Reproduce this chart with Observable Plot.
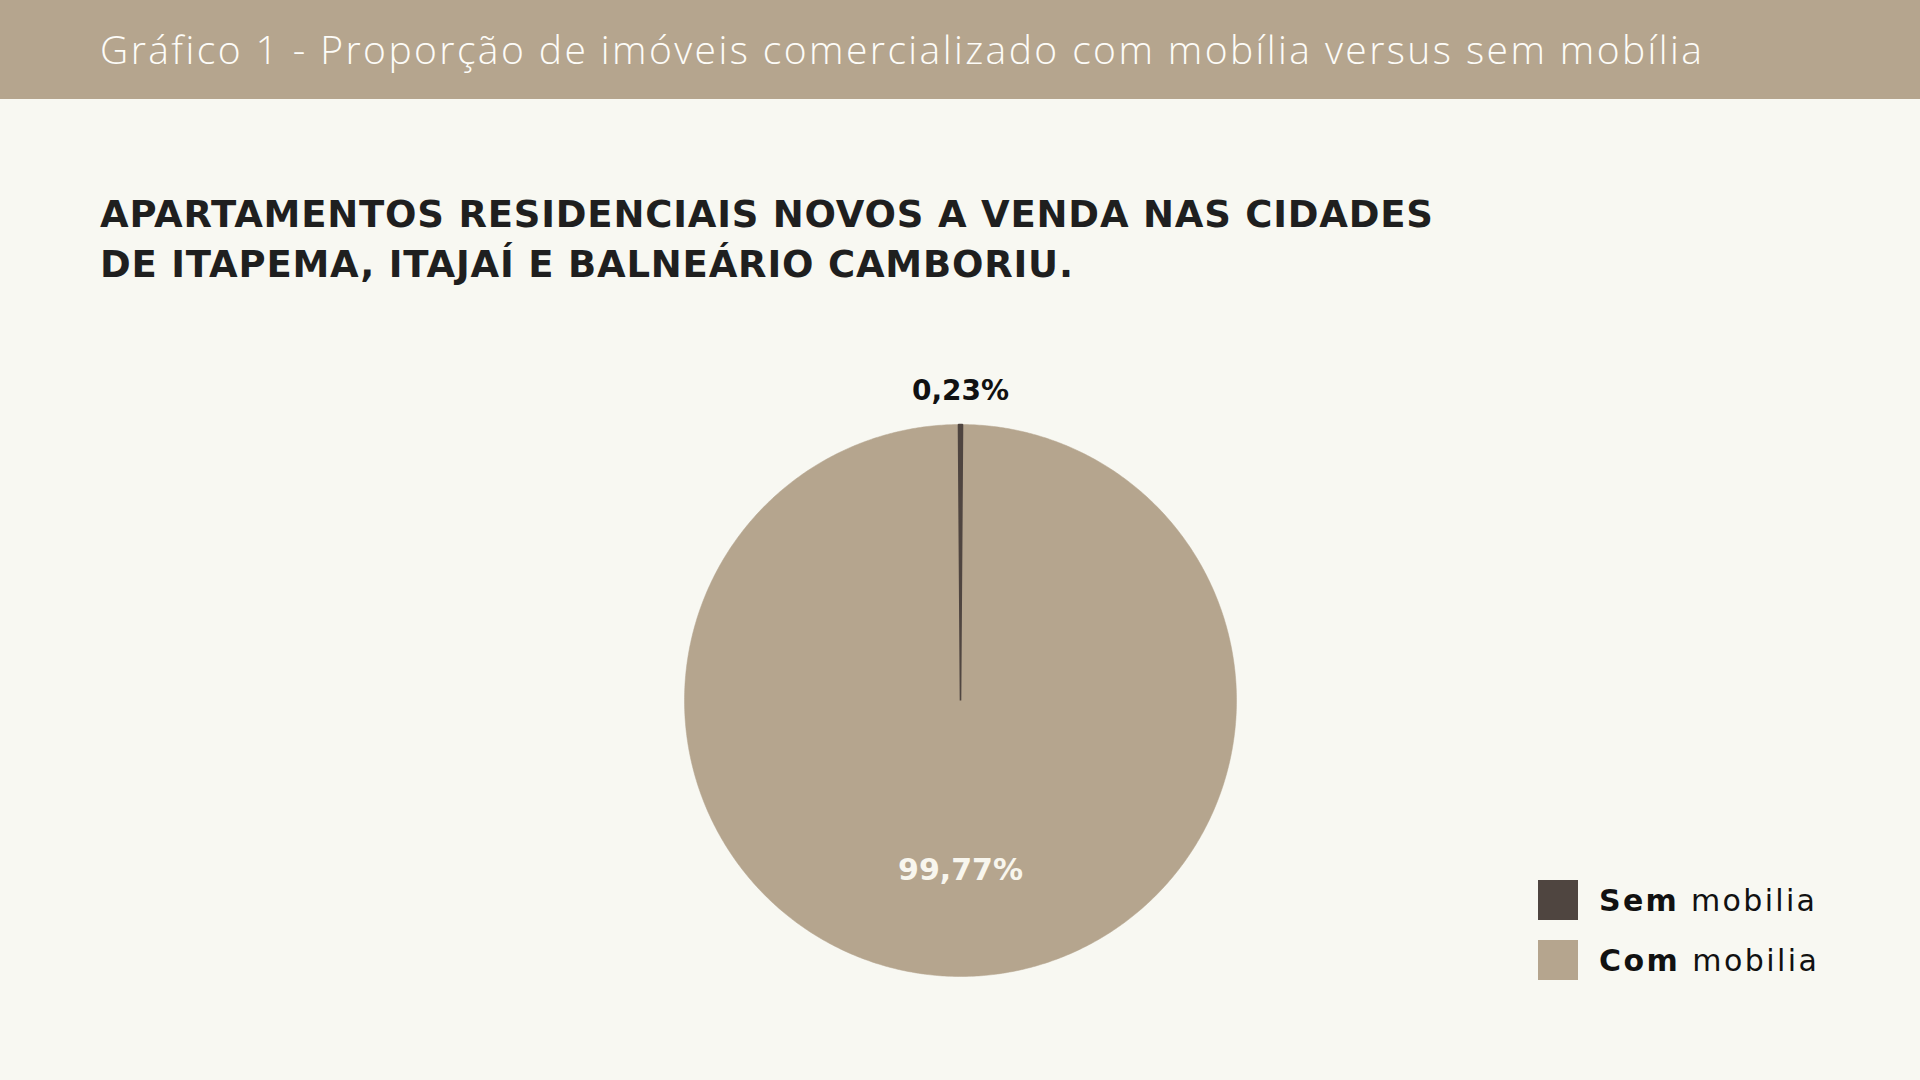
<!DOCTYPE html>
<html><head><meta charset="utf-8">
<script src="https://cdn.jsdelivr.net/npm/d3@7"></script>
<script src="https://cdn.jsdelivr.net/npm/@observablehq/plot@0.6"></script>
<style>
html,body{margin:0;padding:0;width:1920px;height:1080px;background:#f8f8f2;overflow:hidden;font-family:"DejaVu Sans",sans-serif;}
#header{position:absolute;left:0;top:0;width:1920px;height:99px;background:#b5a58e;}
.t{position:absolute;white-space:nowrap;line-height:1;display:inline-block;}
#title{left:100px;top:29px;font-family:"Open Sans",sans-serif;font-size:39px;font-weight:300;color:#fdfcf8;}
.sub{left:100px;font-size:37px;font-weight:700;color:#1f1f1f;}
#chart{position:absolute;left:0;top:300px;}
.sw{position:absolute;left:1538px;width:40px;height:40px;}
.lg{left:1599px;font-size:30px;color:#111;}
.lg b{font-weight:700;}
.lg span{font-weight:400;}
</style></head>
<body>
<div id="header"></div>
<div id="title" class="t">Gráfico 1 - Proporção de imóveis comercializado com mobília versus sem mobília</div>
<div id="sub1" class="t sub" style="top:196px">APARTAMENTOS RESIDENCIAIS NOVOS A VENDA NAS CIDADES</div>
<div id="sub2" class="t sub" style="top:246px">DE ITAPEMA, ITAJAÍ E BALNEÁRIO CAMBORIU.</div>
<div id="chart"></div>
<div id="legend"></div>
<script>
const categorias = ["Sem mobilia", "Com mobilia"];
const percentuais = [0.23, 99.77];
const rotulos = ["0,23%", "99,77%"];
const cores = ["#4f4540", "#b5a58e"];

// build slice polygons in data space (unit circle), first slice centred at 12 o'clock
const total = d3.sum(percentuais);
const offset = -percentuais[0] / total / 2;
let cum = 0;
const pts = [];
const labels = [];
percentuais.forEach((p, i) => {
  const a0 = (cum / total + offset) * 2 * Math.PI;
  cum += p;
  const a1 = (cum / total + offset) * 2 * Math.PI;
  pts.push({cat: categorias[i], x: 0, y: 0});
  const n = Math.max(2, Math.ceil((a1 - a0) / (Math.PI / 360)));
  for (let k = 0; k <= n; k++) {
    const a = a0 + (a1 - a0) * k / n;
    pts.push({cat: categorias[i], x: Math.sin(a), y: Math.cos(a)});
  }
  const mid = (a0 + a1) / 2;
  const outside = p / total < 0.05;
  const r = outside ? 1.123 : 0.617;
  labels.push({cat: categorias[i], text: rotulos[i], x: r * Math.sin(mid), y: r * Math.cos(mid), outside});
});

const chart = Plot.plot({
  width: 1920, height: 780,
  marginLeft: 684, marginRight: 684, marginTop: 124, marginBottom: 104,
  x: {domain: [-1, 1], axis: null},
  y: {domain: [-1, 1], axis: null},
  color: {domain: categorias, range: cores},
  style: {background: "transparent", fontFamily: "DejaVu Sans"},
  marks: [
    Plot.line(pts.filter(d => d.cat === categorias[1]), {x: "x", y: "y", z: "cat", fill: "cat", stroke: "cat", strokeWidth: 0.5, curve: "linear-closed"}),
    Plot.line(pts.filter(d => d.cat === categorias[0]), {x: "x", y: "y", z: "cat", fill: "cat", stroke: "cat", strokeWidth: 1.6, strokeLinejoin: "miter", curve: "linear-closed"}),
    Plot.text(labels.filter(d => d.outside), {x: "x", y: "y", text: "text", fill: "#111111", fontSize: 28, fontWeight: 700, textAnchor: "middle", lineAnchor: "middle"}),
    Plot.text(labels.filter(d => !d.outside), {x: "x", y: "y", text: "text", fill: "#f8f6ee", fontSize: 30, fontWeight: 700, textAnchor: "middle", lineAnchor: "middle"})
  ]
});
document.getElementById("chart").appendChild(chart);

// legend
const lg = document.getElementById("legend");
categorias.forEach((c, i) => {
  const sw = document.createElement("div");
  sw.className = "sw";
  sw.style.top = (880 + i * 60) + "px";
  sw.style.background = cores[i];
  lg.appendChild(sw);
  const t = document.createElement("div");
  t.className = "t lg";
  t.id = "lg" + i;
  t.style.top = (886 + i * 60) + "px";
  const [w1, ...rest] = c.split(" ");
  t.innerHTML = "<b>" + w1 + "</b> <span>" + rest.join(" ") + "</span>";
  lg.appendChild(t);
});

function fit(id, target) {
  const el = document.getElementById(id);
  const w = el.getBoundingClientRect().width;
  const n = el.textContent.length;
  el.style.letterSpacing = ((target - w) / Math.max(1, n - 1)) + "px";
}
fit("title", 1602);
fit("sub1", 1333);
fit("sub2", 973);
fit("lg0", 216);
fit("lg1", 218);
</script>
</body></html>
